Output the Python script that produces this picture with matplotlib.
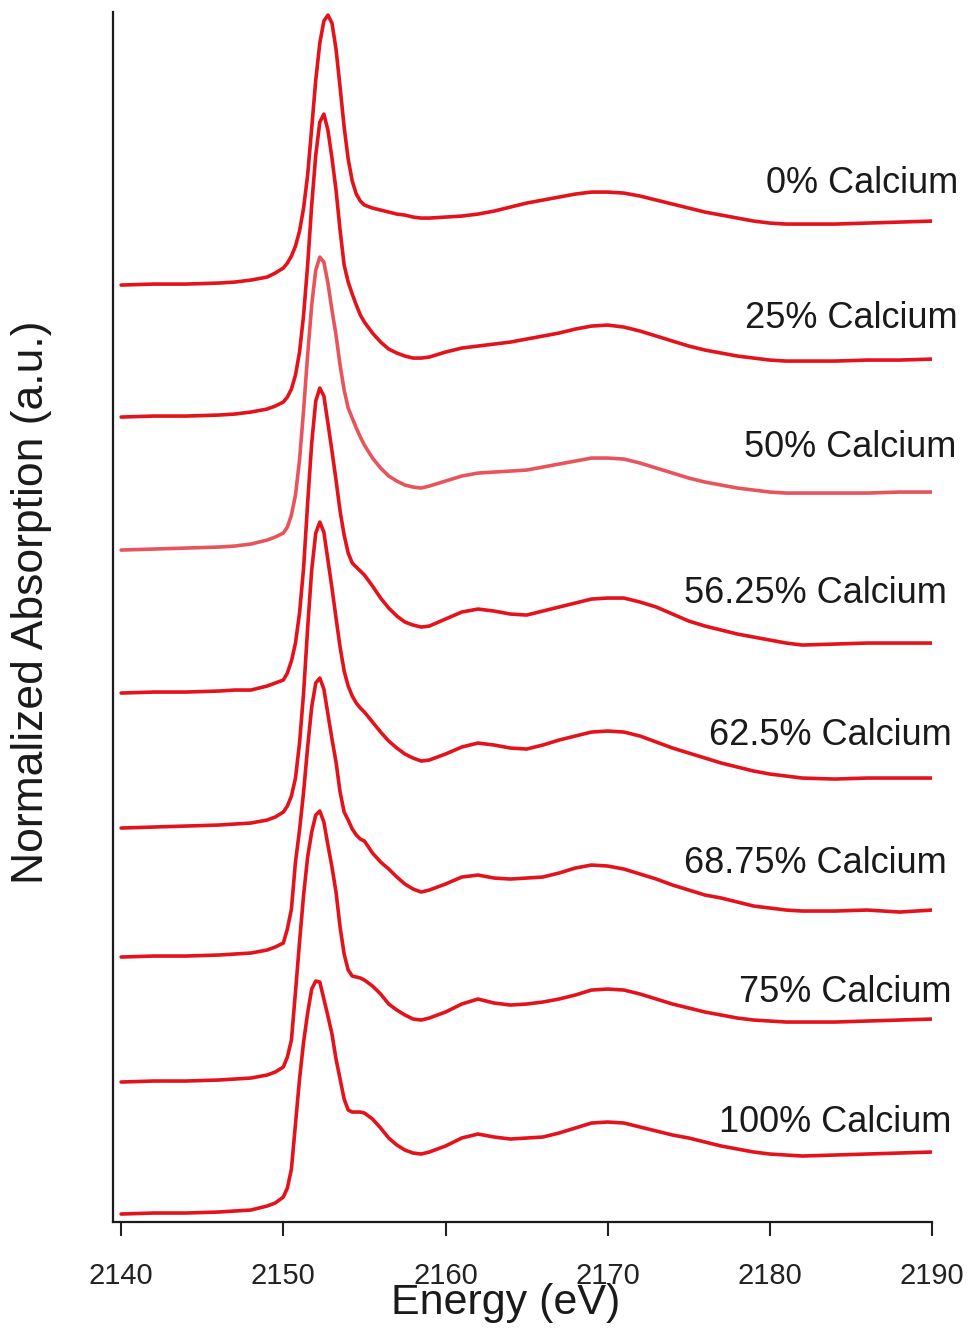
import numpy as np
import matplotlib
matplotlib.use("Agg")
from matplotlib import pyplot as plt

plt.rcParams["font.family"] = ["Liberation Sans", "DejaVu Sans"]

# Energy grid (eV), denser across the white line
energy = [2140, 2142, 2144, 2146, 2147, 2148, 2149, 2149.5,
          2150, 2150.25, 2150.5, 2150.75, 2151, 2151.25, 2151.5, 2151.75,
          2152, 2152.25, 2152.5, 2152.75, 2153, 2153.25, 2153.5, 2153.75,
          2154, 2154.25, 2154.5, 2154.75, 2155,
          2155.5, 2156, 2156.5, 2157, 2157.5, 2158, 2158.5, 2159,
          2160, 2161, 2162, 2163, 2164, 2165, 2166, 2167, 2168, 2169, 2170,
          2171, 2172, 2173, 2174, 2175, 2176, 2177, 2178, 2179, 2180, 2181,
          2182, 2184, 2186, 2188, 2190]

# Absorption above the pre-edge baseline for each calcium content
ca_0 = [0.00, 0.01, 0.01, 0.02, 0.03, 0.05, 0.08, 0.12,
        0.17, 0.22, 0.29, 0.39, 0.54, 0.77, 1.10, 1.57,
        2.05, 2.42, 2.64, 2.70, 2.62, 2.36, 1.98, 1.58,
        1.26, 1.04, 0.91, 0.84, 0.80,
        0.77, 0.75, 0.73, 0.71, 0.70, 0.68, 0.67, 0.67,
        0.68, 0.69, 0.71, 0.74, 0.78, 0.82, 0.85, 0.88, 0.91, 0.93, 0.93,
        0.92, 0.89, 0.85, 0.81, 0.77, 0.73, 0.70, 0.67, 0.64, 0.62, 0.61,
        0.61, 0.61, 0.62, 0.63, 0.64]

ca_25 = [0.00, 0.01, 0.01, 0.02, 0.03, 0.05, 0.08, 0.11,
         0.15, 0.20, 0.28, 0.42, 0.65, 1.02, 1.52, 2.12,
         2.62, 2.95, 3.03, 2.87, 2.59, 2.27, 1.87, 1.52,
         1.35, 1.23, 1.12, 1.02, 0.95,
         0.84, 0.75, 0.68, 0.64, 0.61, 0.59, 0.59, 0.60,
         0.65, 0.69, 0.71, 0.73, 0.75, 0.78, 0.81, 0.84, 0.88, 0.91, 0.92,
         0.90, 0.86, 0.81, 0.76, 0.71, 0.67, 0.64, 0.61, 0.59, 0.57, 0.56,
         0.56, 0.56, 0.57, 0.57, 0.58]

ca_50 = [0.00, 0.01, 0.02, 0.03, 0.04, 0.06, 0.10, 0.13,
         0.17, 0.23, 0.35, 0.55, 0.90, 1.40, 1.95, 2.45,
         2.80, 2.93, 2.88, 2.67, 2.40, 2.15, 1.85, 1.60,
         1.42, 1.32, 1.22, 1.13, 1.05,
         0.92, 0.82, 0.74, 0.69, 0.65, 0.63, 0.62, 0.64,
         0.69, 0.74, 0.77, 0.78, 0.79, 0.80, 0.83, 0.86, 0.89, 0.92, 0.92,
         0.91, 0.87, 0.82, 0.77, 0.72, 0.68, 0.65, 0.62, 0.60, 0.58, 0.57,
         0.57, 0.57, 0.57, 0.58, 0.58]

ca_5625 = [0.00, 0.01, 0.01, 0.02, 0.03, 0.03, 0.07, 0.10,
           0.13, 0.20, 0.32, 0.50, 0.80, 1.25, 1.90, 2.50,
           2.92, 3.05, 2.97, 2.70, 2.42, 2.13, 1.82, 1.58,
           1.40, 1.30, 1.26, 1.22, 1.18,
           1.07, 0.95, 0.85, 0.77, 0.71, 0.68, 0.66, 0.67,
           0.74, 0.81, 0.84, 0.82, 0.79, 0.78, 0.82, 0.86, 0.90, 0.94, 0.95,
           0.95, 0.91, 0.86, 0.79, 0.72, 0.67, 0.63, 0.59, 0.56, 0.53, 0.50,
           0.48, 0.49, 0.50, 0.50, 0.50]

ca_625 = [0.00, 0.01, 0.02, 0.03, 0.04, 0.05, 0.08, 0.11,
          0.16, 0.22, 0.32, 0.50, 0.85, 1.35, 2.00, 2.58,
          2.95, 3.06, 2.96, 2.68, 2.40, 2.10, 1.81, 1.57,
          1.42, 1.32, 1.25, 1.20, 1.16,
          1.06, 0.96, 0.87, 0.80, 0.74, 0.70, 0.67, 0.68,
          0.74, 0.81, 0.85, 0.83, 0.80, 0.79, 0.83, 0.88, 0.92, 0.96, 0.97,
          0.96, 0.92, 0.86, 0.80, 0.75, 0.70, 0.65, 0.61, 0.57, 0.54, 0.52,
          0.50, 0.49, 0.50, 0.50, 0.50]

ca_6875 = [0.00, 0.01, 0.01, 0.02, 0.03, 0.04, 0.07, 0.10,
           0.14, 0.28, 0.48, 0.95, 1.27, 1.65, 2.10, 2.50,
           2.74, 2.79, 2.68, 2.43, 2.18, 1.95, 1.65, 1.45,
           1.37, 1.28, 1.22, 1.18, 1.16,
           1.04, 0.95, 0.88, 0.80, 0.73, 0.68, 0.65, 0.67,
           0.73, 0.80, 0.82, 0.79, 0.78, 0.79, 0.80, 0.84, 0.89, 0.92, 0.91,
           0.88, 0.83, 0.78, 0.72, 0.67, 0.62, 0.59, 0.55, 0.51, 0.49, 0.47,
           0.46, 0.46, 0.47, 0.45, 0.47]

ca_75 = [0.00, 0.01, 0.01, 0.02, 0.03, 0.04, 0.07, 0.10,
         0.15, 0.25, 0.42, 0.90, 1.40, 1.87, 2.25, 2.50,
         2.67, 2.71, 2.60, 2.37, 2.15, 1.90, 1.55, 1.28,
         1.12, 1.06, 1.05, 1.04, 1.02,
         0.96, 0.88, 0.78, 0.72, 0.67, 0.63, 0.62, 0.64,
         0.70, 0.78, 0.83, 0.79, 0.77, 0.78, 0.80, 0.83, 0.87, 0.92, 0.93,
         0.92, 0.88, 0.83, 0.78, 0.74, 0.70, 0.67, 0.64, 0.62, 0.61, 0.60,
         0.60, 0.60, 0.61, 0.62, 0.63]

ca_100 = [0.00, 0.01, 0.01, 0.02, 0.03, 0.04, 0.08, 0.11,
          0.17, 0.26, 0.45, 0.90, 1.35, 1.72, 2.01, 2.25,
          2.33, 2.32, 2.15, 1.98, 1.80, 1.55, 1.35, 1.15,
          1.04, 1.02, 1.02, 1.02, 1.01,
          0.95, 0.86, 0.76, 0.69, 0.64, 0.61, 0.60, 0.62,
          0.68, 0.76, 0.80, 0.77, 0.75, 0.76, 0.77, 0.81, 0.86, 0.91, 0.92,
          0.91, 0.87, 0.83, 0.79, 0.76, 0.72, 0.68, 0.65, 0.62, 0.60, 0.59,
          0.58, 0.59, 0.60, 0.61, 0.62]

spectra = [ca_0, ca_25, ca_50, ca_5625, ca_625, ca_6875, ca_75, ca_100]
labels = ["0% Calcium", "25% Calcium", "50% Calcium", "56.25% Calcium",
          "62.5% Calcium", "68.75% Calcium", "75% Calcium", "100% Calcium"]
offsets = [9.37, 8.05, 6.72, 5.29, 3.94, 2.65, 1.40, 0.08]
label_y = [10.39, 9.04, 7.75, 6.29, 4.87, 3.59, 2.30, 1.00]
label_x = [2191.6, 2191.6, 2191.5, 2190.9, 2191.2, 2190.9, 2191.2, 2191.2]
colors = ["#e3121b", "#e3121b", "#e8545c", "#e3121b",
          "#e3121b", "#e3121b", "#e3121b", "#e3121b"]

fig = plt.figure(figsize=(9.71, 13.28), dpi=100)
ax = fig.add_axes([0.1164, 0.0798, 0.8435, 0.9111])

x = np.array(energy)
for spec, off, col, lab, lx, ly in zip(spectra, offsets, colors, labels, label_x, label_y):
    ax.plot(x, np.array(spec) + off, color=col, lw=2.6,
            solid_joinstyle="round", solid_capstyle="round")
    ax.text(lx, ly, lab, ha="right", va="center", fontsize=26, color="#1a1a1a")

ax.set_xlim(2139.5, 2190)
ax.set_ylim(0, 12.1)
ax.set_xticks([2140, 2150, 2160, 2170, 2180, 2190])
ax.set_yticks([])
ax.tick_params(axis="x", direction="out", length=10, width=1.5, pad=19,
               labelsize=21, colors="#222222")
for side in ["top", "right"]:
    ax.spines[side].set_visible(False)
for side in ["left", "bottom"]:
    ax.spines[side].set_linewidth(1.6)
    ax.spines[side].set_color("#1a1a1a")

ax.set_xlabel("Energy (eV)", fontsize=31, color="#1a1a1a", va="center")
ax.xaxis.set_label_coords(0.479, -0.067)
ax.set_ylabel("Normalized Absorption (a.u.)", fontsize=32, color="#1a1a1a", va="center")
ax.yaxis.set_label_coords(-0.099, 0.512)

fig.savefig("out.png", dpi=100, facecolor="white")
